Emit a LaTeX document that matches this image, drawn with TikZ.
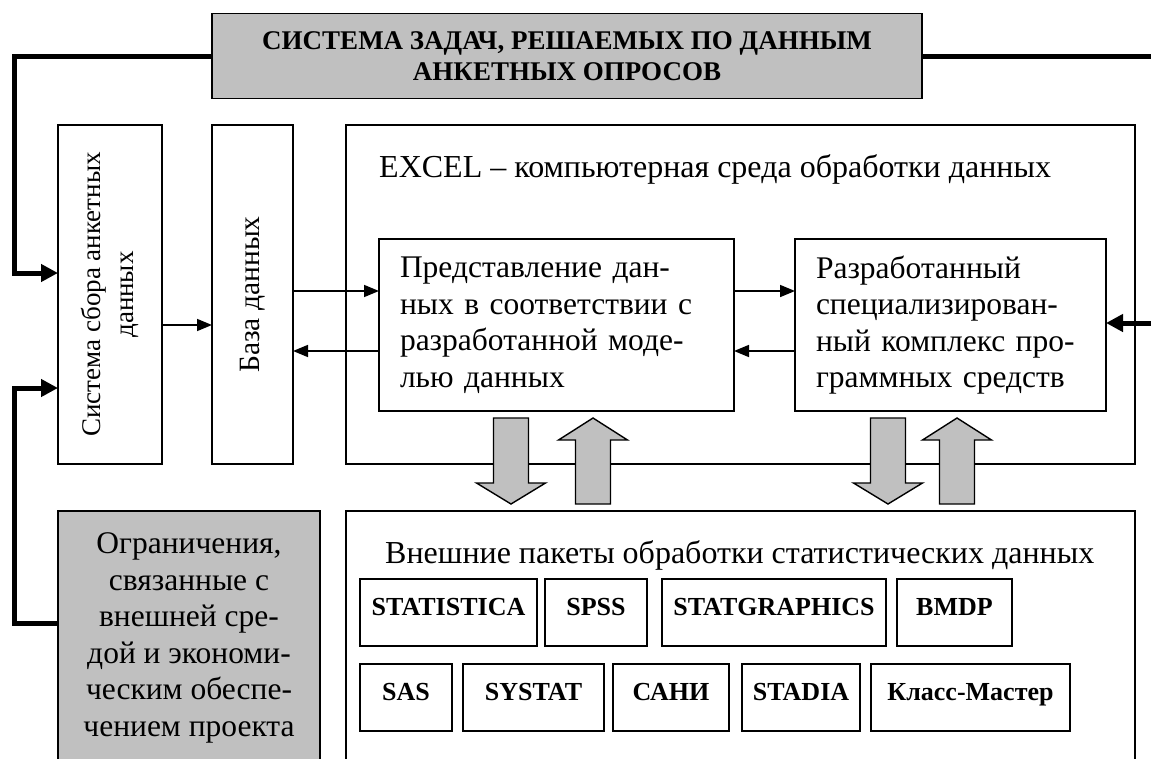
\documentclass[tikz,border=0pt]{standalone}
\usepackage{fontspec}
\setmainfont{Liberation Serif}[BoldFont={Liberation Serif Bold}]
\usetikzlibrary{arrows.meta,calc}
\definecolor{boxgray}{HTML}{C0C0C0}
\begin{document}
\begin{tikzpicture}[x=1pt,y=-1pt,
  rect/.style={draw, line width=1.5pt, inner sep=0pt, outer sep=0pt},
  grayrect/.style={rect, fill=boxgray},
  txt/.style={font=\fontsize{31.5}{36.5}\selectfont},
  lbl/.style={font=\fontsize{32}{37}\selectfont, anchor=base west, inner sep=0pt},
  pkg/.style={rect, anchor=north west, inner xsep=0pt, inner ysep=0pt,
    font=\fontsize{26}{30}\selectfont\bfseries, text height=36pt, text depth=31pt},
  thinarr/.style={line width=1.6pt, -{Triangle[length=15pt,width=12pt]}},
  thickarr/.style={line width=5pt, -{Triangle[length=17pt,width=17pt]}},
  thickline/.style={line width=5pt},
  blockarrow/.style={fill=boxgray, draw, line width=1.4pt, line join=miter},
  downarr/.pic={\path[blockarrow] (-17.5,0) -- (17.5,0) -- (17.5,65) -- (34.5,65) -- (0,86) -- (-34.5,65) -- (-17.5,65) -- cycle;},
  uparr/.pic={\path[blockarrow] (0,0) -- (34.5,22) -- (17.5,22) -- (17.5,86) -- (-17.5,86) -- (-17.5,22) -- (-34.5,22) -- cycle;}
]
\useasboundingbox (0,0) rectangle (1151,758);
\clip (0,0) rectangle (1151,758);

% title
\node[grayrect, minimum width=710pt, minimum height=85pt, align=center,
  font=\fontsize{27}{31.5}\selectfont\bfseries] (title) at (567,56)
  {СИСТЕМА ЗАДАЧ, РЕШАЕМЫХ ПО ДАННЫМ\\АНКЕТНЫХ ОПРОСОВ};

% left column boxes
\node[rect, minimum width=104pt, minimum height=339pt] (sys) at (110,294.5) {};
\node[rotate=90, align=center, inner sep=0pt, font=\fontsize{27}{33}\selectfont] (systext) at (sys.center) {Система сбора анкетных\\данных};
\node[rect, minimum width=81pt, minimum height=339pt] (db) at (252.5,294.5) {};
\node[rotate=90, inner sep=0pt, font=\fontsize{29.5}{34}\selectfont] (dbtext) at (db.center) {База данных};

% EXCEL box
\node[rect, minimum width=789pt, minimum height=339pt] (excel) at (740.5,294.5) {};
\node[lbl] (exceltext) at (379,177) {EXCEL – компьютерная среда обработки данных};

\node[rect, txt, minimum width=355pt, minimum height=172pt, text width=313pt, inner xsep=21pt, align=left] (pred) at (556.5,325)
  {Представление дан-\\ных в соответствии с\\разработанной моде-\\лью данных};
\node[rect, txt, minimum width=311pt, minimum height=172pt, text width=269pt, inner xsep=21pt, align=left] (dev) at (950.5,325)
  {Разработанный\\специализирован-\\ный комплекс про-\\граммных средств};

% bottom boxes
\node[grayrect, txt, minimum width=262pt, minimum height=254pt, align=center] (limits) at (189,638)
  {Ограничения,\\связанные с\\внешней сре-\\дой и экономи-\\ческим обеспе-\\чением проекта};
\node[rect, minimum width=789pt, minimum height=254pt] (ext) at (740.5,638) {};
\node[lbl] (exttext) at (385,563) {Внешние пакеты обработки статистических данных};

% packages
\node[pkg, minimum width=177pt] (p1) at (360,579) {STATISTICA};
\node[pkg, minimum width=102pt] (p2) at (545,579) {SPSS};
\node[pkg, minimum width=224pt] (p3) at (662,579) {STATGRAPHICS};
\node[pkg, minimum width=115pt] (p4) at (897,579) {BMDP};
\node[pkg, minimum width=92pt] (p5) at (360,664) {SAS};
\node[pkg, minimum width=141pt] (p6) at (463,664) {SYSTAT};
\node[pkg, minimum width=116pt] (p7) at (613,664) {САНИ};
\node[pkg, minimum width=118pt] (p8) at (742,664) {STADIA};
\node[pkg, minimum width=199pt] (p9) at (871,664) {Класс-Мастер};

% block arrows
\pic at (511,418) {downarr};
\pic at (593,418) {uparr};
\pic at (888,418) {downarr};
\pic at (957,418) {uparr};

% thin arrows
\draw[thinarr] (sys.east |- 0,325) -- (db.west |- 0,325);
\draw[thinarr] (db.east |- 0,291) -- (pred.west |- 0,291);
\draw[thinarr] (pred.west |- 0,351) -- (db.east |- 0,351);
\draw[thinarr] (pred.east |- 0,291) -- (dev.west |- 0,291);
\draw[thinarr] (dev.west |- 0,351) -- (pred.east |- 0,351);

% thick connectors
\coordinate (lc1) at (14,273);
\coordinate (lc2) at (14,388);
\coordinate (rtop) at (1151,56);
\coordinate (rin) at (1151,323);
\draw[thickarr] (title.west) -| (lc1) -- (sys.west |- lc1);
\draw[thickarr] (limits.west |- 0,623) -| (lc2) -- (sys.west |- lc2);
\draw[thickline] (title.east) -- (rtop);
\draw[thickarr] (rin) -- (dev.east |- rin);
\end{tikzpicture}
\end{document}
